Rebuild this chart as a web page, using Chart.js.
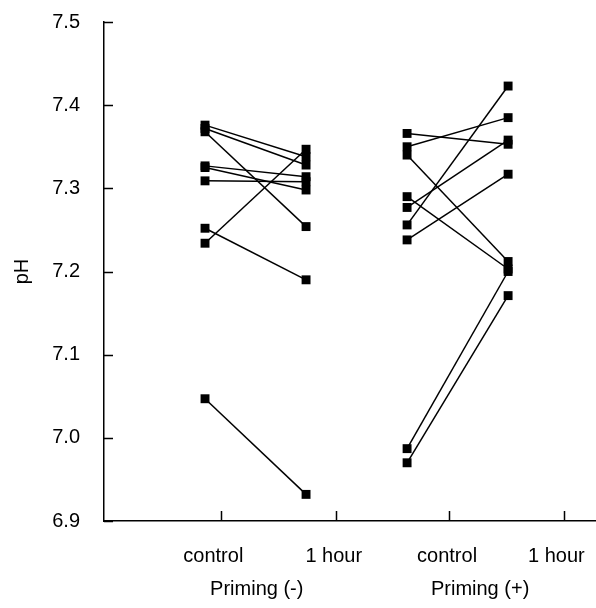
<!DOCTYPE html>
<html>
<head>
<meta charset="utf-8">
<script src="https://cdn.jsdelivr.net/npm/chart.js@4/dist/chart.umd.min.js"></script>
<style>
  html, body { margin: 0; padding: 0; background: #fff; overflow: hidden; }
  #wrap { width: 596px; height: 608px; }
</style>
</head>
<body>
<div id="wrap"><canvas id="ph-chart" width="596" height="608"></canvas></div>
<script>
(function () {
    "use strict";

    // categories along the x axis, and the two groups under them
    const categories = ["control", "1 hour", "control", "1 hour"];
    const groups = ["Priming (-)", "Priming (+)"];

    // x positions (axis units) of the points, labels and tick marks
    const pointX = [1, 2, 3, 4];
    const labelX = [1.082, 2.274, 3.396, 4.478];
    const groupX = [1.512, 3.723];
    const tickMarkX = [1.155, 2.294, 3.416, 4.554];

    // pH per subject, paired control -> 1 hour
    const minusControl = [7.376, 7.372, 7.368, 7.327, 7.325, 7.309, 7.234, 7.252, 7.047];
    const minusHour    = [7.338, 7.328, 7.254, 7.314, 7.298, 7.308, 7.347, 7.190, 6.932];
    const plusControl  = [7.366, 7.350, 7.340, 7.290, 7.277, 7.256, 7.238, 6.987, 6.970];
    const plusHour     = [7.353, 7.385, 7.212, 7.203, 7.358, 7.423, 7.317, 7.200, 7.171];

    const yTicks = [6.9, 7.0, 7.1, 7.2, 7.3, 7.4, 7.5];

    const FONT = "'Liberation Sans', Arial, sans-serif";

    const pair = (x0, x1, a, b) => a.map((v, i) => ({
        data: [{ x: x0, y: v }, { x: x1, y: b[i] }],
    }));

    const datasets = [
        ...pair(pointX[0], pointX[1], minusControl, minusHour),
        ...pair(pointX[2], pointX[3], plusControl, plusHour),
    ].map((d) => Object.assign(d, {
        showLine: true,
        borderColor: "#000",
        borderWidth: 1.5,
        backgroundColor: "#000",
        pointStyle: "rect",
        pointRadius: 6.3,
        pointBorderWidth: 0,
        pointHoverRadius: 6.3,
    }));

    // labels: categories on line 1, groups on line 2
    const xLabelTicks = labelX.map((v, i) => ({ value: v, label: categories[i] }))
        .concat(groupX.map((v, i) => ({ value: v, label: ["", groups[i]] })))
        .sort((a, b) => a.value - b.value);

    // short inward tick marks, like the original
    const innerTicks = {
        id: "innerTicks",
        afterDraw(chart) {
            const { ctx, chartArea, scales } = chart;
            ctx.save();
            ctx.strokeStyle = "#000";
            ctx.lineWidth = 1.5;
            ctx.beginPath();
            yTicks.forEach((v) => {
                const y = Math.round(scales.y.getPixelForValue(v)) + 0.5;
                ctx.moveTo(chartArea.left, y);
                ctx.lineTo(chartArea.left + 9, y);
            });
            tickMarkX.forEach((v) => {
                const x = Math.round(scales.x.getPixelForValue(v)) + 0.5;
                ctx.moveTo(x, chartArea.bottom);
                ctx.lineTo(x, chartArea.bottom - 10);
            });
            ctx.stroke();
            ctx.restore();
        },
    };

    new Chart(document.getElementById("ph-chart").getContext("2d"), {
        type: "scatter",
        data: { datasets },
        options: {
            responsive: false,
            animation: false,
            layout: { autoPadding: false, padding: { top: 22, right: 0, left: 0, bottom: 0 } },
            plugins: {
                legend: { display: false },
                tooltip: { enabled: false },
            },
            scales: {
                x: {
                    type: "linear",
                    min: 0,
                    max: 4.87,
                    afterBuildTicks: (s) => { s.ticks = xLabelTicks.map((t) => ({ value: t.value })); },
                    afterFit: (s) => {
                        s.height = 87;
                        s.paddingLeft = 0;
                        s.paddingRight = 0;
                    },
                    grid: { display: false, drawTicks: false },
                    border: { display: true, color: "#000", width: 1.5 },
                    ticks: {
                        autoSkip: false,
                        maxRotation: 0,
                        padding: 19,
                        color: "#000",
                        font: { family: FONT, size: 20, lineHeight: 1.665 },
                        callback: (v, i) => xLabelTicks[i].label,
                    },
                },
                y: {
                    type: "linear",
                    min: 6.9,
                    max: 7.5,
                    afterBuildTicks: (s) => { s.ticks = yTicks.map((v) => ({ value: v })); },
                    afterFit: (s) => {
                        s.width = 104;
                        s.paddingTop = 0;
                        s.paddingBottom = 0;
                    },
                    grid: { display: false, drawTicks: false },
                    border: { display: true, color: "#000", width: 1.5 },
                    ticks: {
                        padding: 24,
                        color: "#000",
                        font: { family: FONT, size: 20 },
                        callback: (v) => Number(v).toFixed(1),
                    },
                    title: {
                        display: true,
                        text: "pH",
                        color: "#000",
                        padding: { top: 10, bottom: 0 },
                        font: { family: FONT, size: 20 },
                    },
                },
            },
        },
        plugins: [innerTicks],
    });
})();
</script>
</body>
</html>
